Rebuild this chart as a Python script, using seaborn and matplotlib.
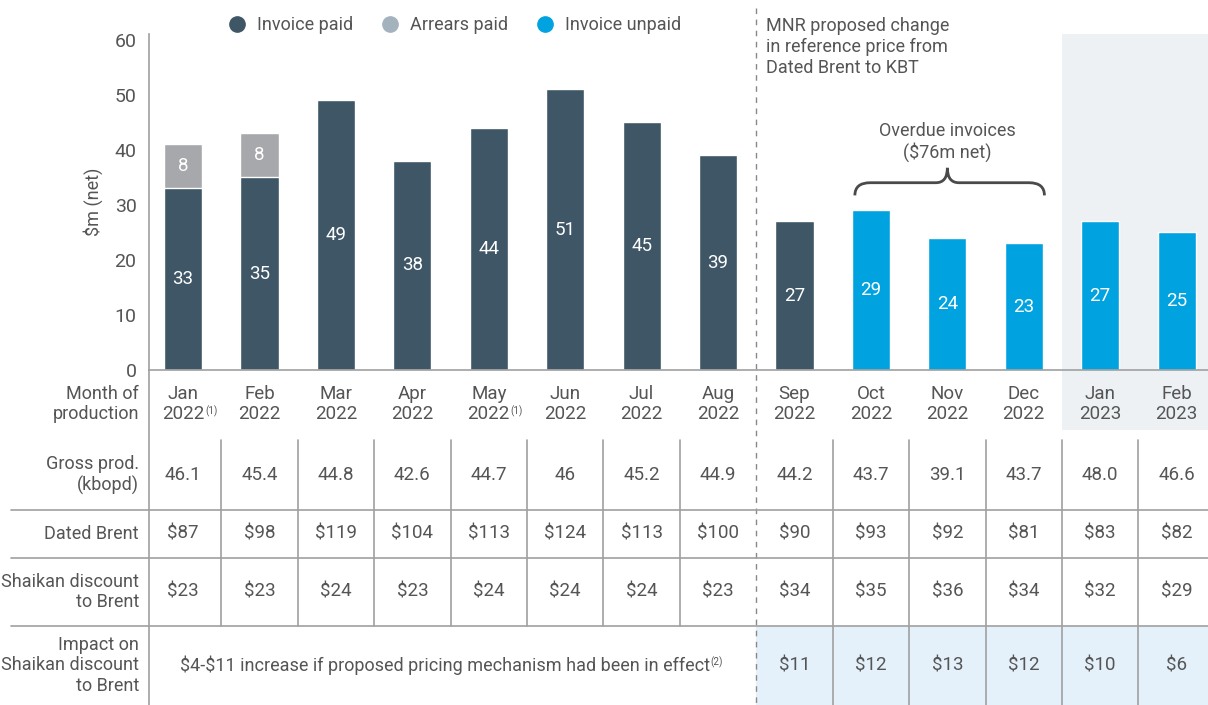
import pandas as pd
import matplotlib.pyplot as plt
import seaborn as sns
from matplotlib.lines import Line2D
from matplotlib.patches import Rectangle, PathPatch
from matplotlib.path import Path

# ---- data ----
months = ["Jan 2022", "Feb 2022", "Mar 2022", "Apr 2022", "May 2022", "Jun 2022", "Jul 2022",
          "Aug 2022", "Sep 2022", "Oct 2022", "Nov 2022", "Dec 2022", "Jan 2023", "Feb 2023"]
month_labels = ["Jan\n2022", "Feb\n2022", "Mar\n2022", "Apr\n2022", "May\n2022", "Jun\n2022",
                "Jul\n2022", "Aug\n2022", "Sep\n2022", "Oct\n2022", "Nov\n2022", "Dec\n2022",
                "Jan\n2023", "Feb\n2023"]
month_notes = {0: "(1)", 4: "(1)"}
invoice_paid = [33, 35, 49, 38, 44, 51, 45, 39, 27, 0, 0, 0, 0, 0]
arrears_paid = [8, 8, 0, 0, 0, 0, 0, 0, 0, 0, 0, 0, 0, 0]
invoice_unpaid = [0, 0, 0, 0, 0, 0, 0, 0, 0, 29, 24, 23, 27, 25]

gross_prod = ["46.1", "45.4", "44.8", "42.6", "44.7", "46", "45.2", "44.9", "44.2", "43.7",
              "39.1", "43.7", "48.0", "46.6"]
dated_brent = [87, 98, 119, 104, 113, 124, 113, 100, 90, 93, 92, 81, 83, 82]
shaikan_discount = [23, 23, 24, 23, 24, 24, 24, 23, 34, 35, 36, 34, 32, 29]
impact = [11, 12, 13, 12, 10, 6]   # Sep 2022 .. Feb 2023
impact_note = "$4-$11 increase if proposed pricing mechanism had been in effect"

df = pd.DataFrame({"month": months, "paid": invoice_paid, "arrears": arrears_paid,
                   "unpaid": invoice_unpaid})
df["paid_total"] = df["paid"] + df["arrears"]

# ---- style ----
C_PAID = "#3e5666"
C_ARREARS = "#a7a8ab"
C_ARREARS_LEG = "#a3b2bd"
C_UNPAID = "#00a3e0"
C_TEXT = "#555555"
C_LINE = "#a0a0a0"
FS = 13
FS_NUM = 13.5

sns.set_style("white")
plt.rcParams['font.family'] = ['Roboto', 'DejaVu Sans']
plt.rcParams['text.parse_math'] = False

W, H = 1208, 705
fig = plt.figure(figsize=(W / 100, H / 100), dpi=100)

x0, x1 = -0.445, 13.41
ax_left, ax_top, ax_bottom = 149, 34, 370
ax = fig.add_axes([ax_left / W, 1 - ax_bottom / H, 1 - ax_left / W, (ax_bottom - ax_top) / H], zorder=1)
ax.patch.set_alpha(0)
ppu = (W - ax_left) / (x1 - x0)

# table / annotation layer in pixel-y units, same x units as bars
tax = fig.add_axes([0, 0, 1, 1], zorder=0)
tax.set_xlim(x0 - ax_left / ppu, x1)
tax.set_ylim(H, 0)
tax.axis("off")


def sup(artist, s, yfrac):
    # small footnote marker after the end of a text
    tax.annotate(s, xy=(1, yfrac), xycoords=artist, xytext=(0.5, 0), textcoords="offset points",
                 fontsize=7, color=C_TEXT, ha="left", va="top")


# ---- bars ----
kw = dict(x="month", width=0.5, saturation=1, errorbar=None, ax=ax, order=months)
sns.barplot(data=df, y="paid_total", color=C_ARREARS, **kw)
sns.barplot(data=df, y="paid", color=C_PAID, **kw)
sns.barplot(data=df, y="unpaid", color=C_UNPAID, **kw)

for i, r in df.iterrows():
    for bottom, val in [(0, r["paid"]), (r["paid"], r["arrears"]), (0, r["unpaid"])]:
        if val > 0:
            ax.text(i, bottom + val / 2, str(val), ha="center", va="center", color="white",
                    fontsize=FS_NUM)

ax.set_xlim(x0, x1)
ax.set_ylim(0, 61)
ax.set_yticks(range(0, 61, 10))
ax.set_xticks([])
ax.set_xlabel("")
ax.set_ylabel("$m (net)", fontsize=FS, color=C_TEXT, labelpad=8)
ax.tick_params(axis="y", direction="out", length=6, width=1, color=C_LINE, labelsize=14,
               labelcolor=C_TEXT, pad=3)
sns.despine(ax=ax, top=True, right=True)
for s in ["left", "bottom"]:
    ax.spines[s].set_color(C_LINE)
    ax.spines[s].set_linewidth(1.2)

# brace over overdue invoices
bx0, bx1, bm = 8.79, 11.27, 10.0
yb, yc, yp = 31.7, 34.0, 36.7
verts = [(bx0, yb), (bx0, yc), (bx0 + 0.2, yc), (bm - 0.15, yc), (bm, yc), (bm, yp),
         (bm, yc), (bm + 0.15, yc), (bx1 - 0.2, yc), (bx1, yc), (bx1, yb)]
codes = [Path.MOVETO, Path.CURVE3, Path.CURVE3, Path.LINETO, Path.CURVE3, Path.CURVE3,
         Path.CURVE3, Path.CURVE3, Path.LINETO, Path.CURVE3, Path.CURVE3]
ax.add_patch(PathPatch(Path(verts, codes), fill=False, edgecolor="#4a4a4a", lw=2, clip_on=False))
tax.text(bm, 142, "Overdue invoices\n($76m net)", ha="center", va="center", fontsize=FS,
         color=C_TEXT, linespacing=1.15)

# legend
handles = [Line2D([], [], marker="o", ls="", ms=11, color=c, label=l)
           for c, l in [(C_PAID, "Invoice paid"), (C_ARREARS_LEG, "Arrears paid"),
                        (C_UNPAID, "Invoice unpaid")]]
fig.legend(handles=handles, loc="center left", bbox_to_anchor=(212 / W, 1 - 25 / H), ncol=3,
           frameon=False, fontsize=FS, labelcolor=C_TEXT, handlelength=1.0,
           handletextpad=0.6, columnspacing=1.55)

# ---- shaded regions ----
split = 7.5
tax.add_patch(Rectangle((11.5, ax_top), x1 - 11.5, 430 - ax_top, color="#edf1f4", lw=0))
tax.add_patch(Rectangle((split, 626), x1 - split, H - 626, color="#e4f1fa", lw=0))

tax.plot([split, split], [8, H], color="#888888", lw=1, ls=(0, (4, 4)))
tax.text(7.63, 47, "MNR proposed change\nin reference price from\nDated Brent to KBT",
         ha="left", va="center", fontsize=FS, color=C_TEXT, linespacing=1.2)

# ---- table ----
lab_x = x0 - 10 / ppu
row_edges = [440, 510, 558, 626, H]
tax.text(lab_x, 404, "Month of\nproduction", ha="right", va="center", fontsize=FS,
         color=C_TEXT, linespacing=1.15)
for i, lab in enumerate(month_labels):
    t = tax.text(i, 404, lab, ha="center", va="center", fontsize=FS_NUM, color=C_TEXT,
                 linespacing=1.1)
    if i in month_notes:
        sup(t, month_notes[i], 0.47)

rows = [("Gross prod.\n(kbopd)", gross_prod),
        ("Dated Brent", [f"${v}" for v in dated_brent]),
        ("Shaikan discount\nto Brent", [f"${v}" for v in shaikan_discount])]
for k, (lab, vals) in enumerate(rows):
    yc_ = (row_edges[k] + row_edges[k + 1]) / 2
    tax.text(lab_x, yc_, lab, ha="right", va="center", fontsize=FS, color=C_TEXT,
             linespacing=1.15)
    for i, v in enumerate(vals):
        tax.text(i, yc_, v, ha="center", va="center", fontsize=FS_NUM, color=C_TEXT)

yi = (row_edges[3] + row_edges[4]) / 2
tax.text(lab_x, yi, "Impact on\nShaikan discount\nto Brent", ha="right", va="center",
         fontsize=FS, color=C_TEXT, linespacing=1.15)
t = tax.text((x0 + split) / 2 - 0.1, yi, impact_note, ha="center", va="center", fontsize=FS,
             color=C_TEXT)
sup(t, "(2)", 0.95)
for j, v in enumerate(impact):
    tax.text(len(months) - len(impact) + j, yi, f"${v}", ha="center", va="center",
             fontsize=FS_NUM, color=C_TEXT)

# grid lines
for yl in row_edges[1:4]:
    tax.plot([lab_x - 128 / ppu, x1], [yl, yl], color=C_LINE, lw=1.2)
tax.plot([x0, x0], [ax_bottom, H], color=C_LINE, lw=1.2)
for b in [i + 0.5 for i in range(len(months) - 1)]:
    if b == split:
        continue
    bottom = H if b > split else row_edges[3]
    tax.plot([b, b], [row_edges[0], bottom], color=C_LINE, lw=1.2)

fig.savefig("out.png", dpi=100)
